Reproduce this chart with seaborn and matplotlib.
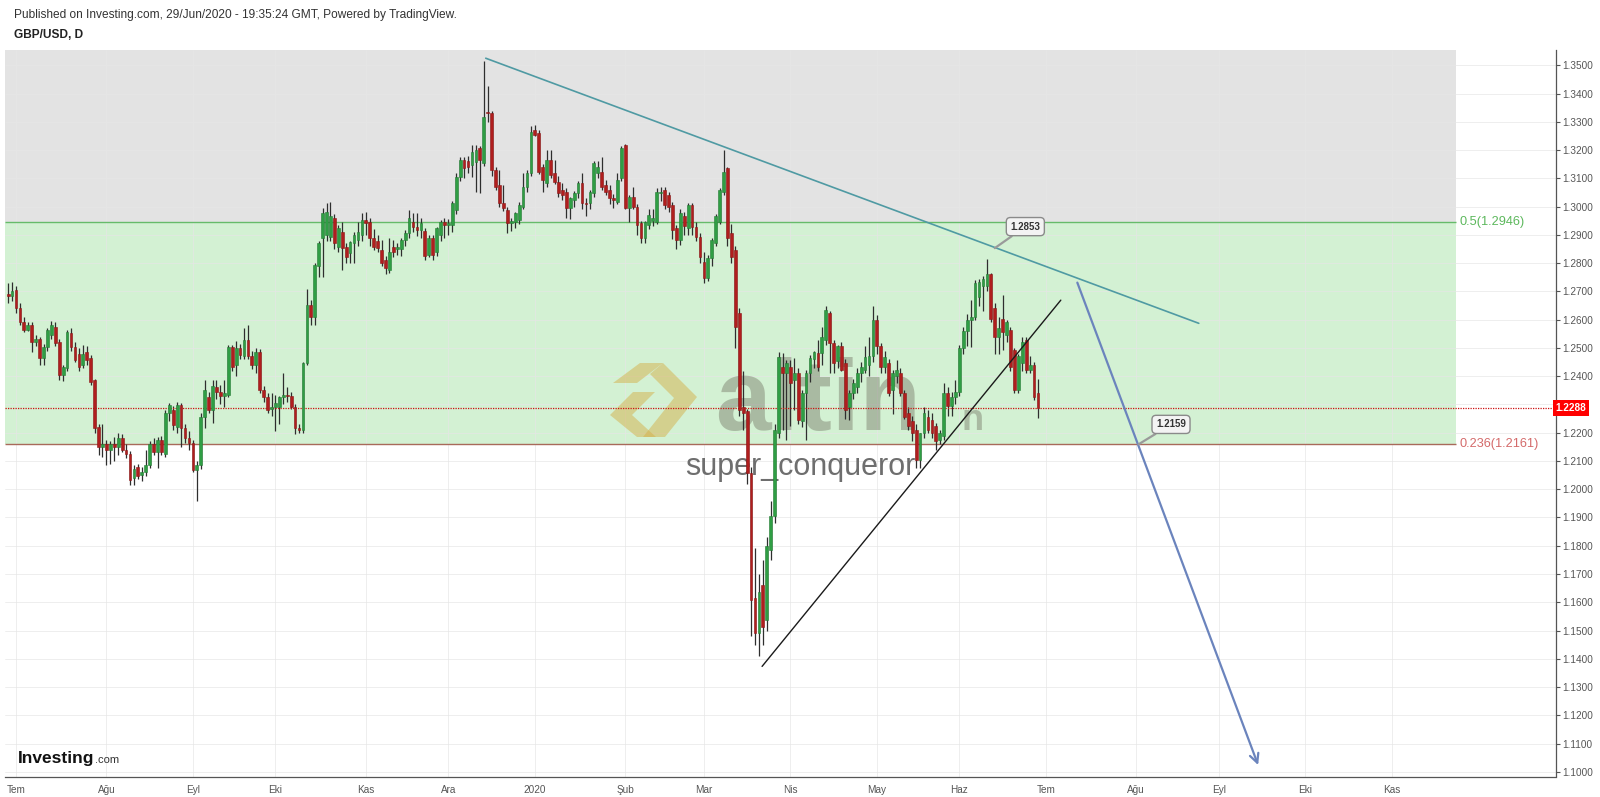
import numpy as np
import pandas as pd
import seaborn as sns
import matplotlib.pyplot as plt
from matplotlib.patches import Polygon
from matplotlib.transforms import blended_transform_factory

# GBP/USD daily bars, 27 Jun 2019 - 29 Jun 2020
dates = pd.bdate_range('2019-06-27', '2020-06-29')

opens = [
    1.2690, 1.2685,
    # Jul 2019
    1.2705, 1.2640, 1.2592, 1.2563, 1.2580, 1.2521, 1.2530, 1.2463, 1.2504, 1.2545, 1.2575, 1.2522,
    1.2404, 1.2430, 1.2551, 1.2504, 1.2480, 1.2439, 1.2486, 1.2463, 1.2386, 1.2221, 1.2150,
    # Aug
    1.2160, 1.2140, 1.2160, 1.2150, 1.2180, 1.2140, 1.2126, 1.2040, 1.2080, 1.2050, 1.2060,
    1.2085, 1.2160, 1.2130, 1.2175, 1.2126, 1.2268, 1.2280, 1.2221, 1.2297, 1.2215, 1.2180,
    # Sep
    1.2165, 1.2067, 1.2085, 1.2256, 1.2327, 1.2280, 1.2360, 1.2345, 1.2330, 1.2332, 1.2504,
    1.2439, 1.2500, 1.2470, 1.2527, 1.2470, 1.2440, 1.2486, 1.2350, 1.2327, 1.2285,
    # Oct
    1.2290, 1.2290, 1.2325, 1.2335, 1.2330, 1.2291, 1.2215, 1.2209, 1.2445, 1.2651, 1.2610, 1.2790,
    1.2888, 1.2900, 1.2894, 1.2959, 1.2858, 1.2911, 1.2858, 1.2835, 1.2870, 1.2882, 1.2900,
    # Nov
    1.2953, 1.2947, 1.2888, 1.2880, 1.2846, 1.2811, 1.2776, 1.2858, 1.2850, 1.2850, 1.2882,
    1.2905, 1.2947, 1.2929, 1.2917, 1.2914, 1.2830, 1.2888, 1.2841, 1.2900, 1.2947,
    # Dec
    1.2935, 1.2935, 1.2988, 1.3106, 1.3165, 1.3160, 1.3147, 1.3159, 1.3206, 1.3153, 1.3335,
    1.3330, 1.3130, 1.3077, 1.3012, 1.2988, 1.2941, 1.2947, 1.2953, 1.3000, 1.3071, 1.3118,
    # Jan 2020
    1.3271, 1.3259, 1.3141, 1.3082, 1.3165, 1.3118, 1.3088, 1.3059, 1.3053, 1.2994, 1.3024, 1.3047,
    1.3083, 1.3012, 1.3012, 1.3047, 1.3118, 1.3124, 1.3077, 1.3059, 1.3030, 1.3018, 1.3100,
    # Feb
    1.3218, 1.2994, 1.3035, 1.3000, 1.2941, 1.2888, 1.2935, 1.2950, 1.2947, 1.3047,
    1.3059, 1.3041, 1.3006, 1.2923, 1.2882, 1.2965, 1.2923, 1.3006, 1.2929, 1.2894,
    # Mar
    1.2805, 1.2746, 1.2817, 1.2870, 1.2947, 1.3053, 1.3136, 1.2906, 1.2847, 1.2622, 1.2290,
    1.2275, 1.2057, 1.1615, 1.1490, 1.1661, 1.1538, 1.1786, 1.1904, 1.2199, 1.2434, 1.2410,
    # Apr
    1.2434, 1.2387, 1.2410, 1.2240, 1.2340, 1.2410, 1.2460, 1.2481, 1.2481, 1.2528, 1.2622,
    1.2516, 1.2452, 1.2505, 1.2446, 1.2292, 1.2340, 1.2363, 1.2410, 1.2422, 1.2440, 1.2470,
    # May
    1.2599, 1.2505, 1.2434, 1.2446, 1.2352, 1.2400, 1.2410, 1.2340, 1.2270, 1.2240, 1.2210,
    1.2104, 1.2198, 1.2257, 1.2245, 1.2222, 1.2175, 1.2187, 1.2340, 1.2293, 1.2328,
    # Jun
    1.2345, 1.2498, 1.2560, 1.2600, 1.2610, 1.2680, 1.2720, 1.2720, 1.2760, 1.2640, 1.2539,
    1.2604, 1.2545, 1.2563, 1.2492, 1.2351, 1.2445, 1.2528, 1.2421, 1.2440, 1.2339,
]

highs = [
    1.2728, 1.2734,
    1.2718, 1.2660, 1.2610, 1.2590, 1.2590, 1.2545, 1.2540, 1.2515, 1.2570, 1.2595, 1.2590, 1.2530,
    1.2440, 1.2565, 1.2570, 1.2520, 1.2500, 1.2510, 1.2505, 1.2475, 1.2390, 1.2230, 1.2230,
    1.2175, 1.2170, 1.2185, 1.2200, 1.2195, 1.2160, 1.2135, 1.2085, 1.2090, 1.2080, 1.2140,
    1.2170, 1.2180, 1.2185, 1.2190, 1.2280, 1.2305, 1.2295, 1.2310, 1.2305, 1.2230, 1.2205,
    1.2175, 1.2100, 1.2270, 1.2385, 1.2345, 1.2385, 1.2385, 1.2370, 1.2385, 1.2510, 1.2510,
    1.2525, 1.2515, 1.2570, 1.2582, 1.2490, 1.2500, 1.2495, 1.2365, 1.2340, 1.2340,
    1.2335, 1.2330, 1.2410, 1.2360, 1.2345, 1.2300, 1.2230, 1.2450, 1.2708, 1.2670, 1.2800, 1.2880,
    1.2994, 1.3012, 1.3018, 1.2975, 1.2935, 1.2947, 1.2870, 1.2880, 1.2911, 1.2947, 1.2976,
    1.2982, 1.2960, 1.2920, 1.2900, 1.2882, 1.2825, 1.2888, 1.2882, 1.2870, 1.2888, 1.2917,
    1.2988, 1.2976, 1.2976, 1.2960, 1.2925, 1.2900, 1.2900, 1.2929, 1.2953, 1.2960,
    1.2955, 1.3020, 1.3118, 1.3175, 1.3175, 1.3180, 1.3217, 1.3217, 1.3215, 1.3514, 1.3425,
    1.3340, 1.3140, 1.3130, 1.3077, 1.3000, 1.2960, 1.2980, 1.3015, 1.3118, 1.3130, 1.3285,
    1.3290, 1.3270, 1.3150, 1.3200, 1.3200, 1.3165, 1.3110, 1.3085, 1.3065, 1.3035, 1.3055, 1.3089,
    1.3118, 1.3030, 1.3060, 1.3160, 1.3160, 1.3177, 1.3095, 1.3075, 1.3045, 1.3118, 1.3215,
    1.3222, 1.3040, 1.3070, 1.3010, 1.2950, 1.2950, 1.2990, 1.2990, 1.3065, 1.3070,
    1.3070, 1.3050, 1.3015, 1.2935, 1.2990, 1.2980, 1.3012, 1.3012, 1.2945, 1.2905,
    1.2840, 1.2830, 1.2890, 1.2975, 1.3065, 1.3200, 1.3140, 1.2940, 1.2860, 1.2640, 1.2420,
    1.2285, 1.2080, 1.1791, 1.1700, 1.1750, 1.1830, 1.1960, 1.2230, 1.2485, 1.2481, 1.2458,
    1.2458, 1.2464, 1.2430, 1.2350, 1.2422, 1.2475, 1.2490, 1.2528, 1.2575, 1.2647, 1.2630,
    1.2528, 1.2510, 1.2520, 1.2460, 1.2350, 1.2390, 1.2430, 1.2450, 1.2505, 1.2540, 1.2647,
    1.2615, 1.2516, 1.2490, 1.2460, 1.2422, 1.2458, 1.2430, 1.2350, 1.2290, 1.2260, 1.2230,
    1.2200, 1.2290, 1.2280, 1.2270, 1.2235, 1.2210, 1.2375, 1.2360, 1.2345, 1.2385,
    1.2510, 1.2575, 1.2620, 1.2669, 1.2740, 1.2745, 1.2755, 1.2813, 1.2765, 1.2660, 1.2610,
    1.2687, 1.2600, 1.2575, 1.2500, 1.2480, 1.2540, 1.2540, 1.2470, 1.2450, 1.2390,
]

lows = [
    1.2660, 1.2665,
    1.2625, 1.2580, 1.2555, 1.2560, 1.2486, 1.2505, 1.2440, 1.2440, 1.2490, 1.2530, 1.2505, 1.2385,
    1.2382, 1.2420, 1.2490, 1.2450, 1.2420, 1.2430, 1.2440, 1.2370, 1.2200, 1.2120, 1.2115,
    1.2085, 1.2090, 1.2100, 1.2120, 1.2130, 1.2110, 1.2015, 1.2015, 1.2035, 1.2030, 1.2045,
    1.2075, 1.2120, 1.2075, 1.2120, 1.2115, 1.2240, 1.2210, 1.2200, 1.2150, 1.2165, 1.2140,
    1.2060, 1.1958, 1.2070, 1.2215, 1.2270, 1.2235, 1.2320, 1.2300, 1.2290, 1.2325, 1.2420,
    1.2400, 1.2460, 1.2460, 1.2460, 1.2425, 1.2410, 1.2340, 1.2310, 1.2270, 1.2260,
    1.2205, 1.2230, 1.2300, 1.2310, 1.2285, 1.2195, 1.2200, 1.2200, 1.2440, 1.2580, 1.2580, 1.2750,
    1.2752, 1.2880, 1.2880, 1.2850, 1.2840, 1.2776, 1.2800, 1.2800, 1.2800, 1.2860, 1.2880,
    1.2900, 1.2860, 1.2845, 1.2840, 1.2790, 1.2760, 1.2765, 1.2820, 1.2830, 1.2825, 1.2860,
    1.2890, 1.2910, 1.2895, 1.2890, 1.2810, 1.2820, 1.2810, 1.2825, 1.2880, 1.2890,
    1.2900, 1.2910, 1.2975, 1.3090, 1.3100, 1.3120, 1.3106, 1.3053, 1.3047, 1.3145, 1.3300,
    1.3110, 1.3060, 1.3000, 1.2985, 1.2905, 1.2915, 1.2925, 1.2940, 1.2990, 1.3050, 1.3110,
    1.3250, 1.3115, 1.3050, 1.3070, 1.3100, 1.3080, 1.3035, 1.3025, 1.2960, 1.2955, 1.3000, 1.3030,
    1.2990, 1.2965, 1.2990, 1.3035, 1.3100, 1.3060, 1.3040, 1.3010, 1.2994, 1.3010, 1.3090,
    1.2990, 1.2947, 1.2990, 1.2900, 1.2870, 1.2870, 1.2920, 1.2930, 1.2940, 1.3020,
    1.2990, 1.2980, 1.2885, 1.2850, 1.2865, 1.2900, 1.2900, 1.2900, 1.2880, 1.2800,
    1.2728, 1.2735, 1.2790, 1.2860, 1.2940, 1.3040, 1.2860, 1.2800, 1.2500, 1.2260, 1.2210,
    1.2020, 1.1480, 1.1450, 1.1409, 1.1450, 1.1500, 1.1750, 1.1880, 1.2180, 1.2210, 1.2175,
    1.2222, 1.2281, 1.2230, 1.2220, 1.2175, 1.2380, 1.2430, 1.2420, 1.2440, 1.2510, 1.2410,
    1.2410, 1.2430, 1.2420, 1.2247, 1.2245, 1.2320, 1.2340, 1.2380, 1.2410, 1.2400, 1.2450,
    1.2480, 1.2410, 1.2410, 1.2330, 1.2265, 1.2375, 1.2330, 1.2250, 1.2210, 1.2170, 1.2075,
    1.2075, 1.2180, 1.2200, 1.2180, 1.2140, 1.2160, 1.2175, 1.2260, 1.2260, 1.2300,
    1.2330, 1.2480, 1.2505, 1.2504, 1.2600, 1.2650, 1.2630, 1.2700, 1.2590, 1.2480, 1.2480,
    1.2492, 1.2520, 1.2420, 1.2340, 1.2339, 1.2420, 1.2410, 1.2410, 1.2315, 1.2252,
]

closes = [
    1.2685, 1.2700,
    1.2640, 1.2592, 1.2563, 1.2580, 1.2521, 1.2530, 1.2463, 1.2504, 1.2563, 1.2581, 1.2516, 1.2404,
    1.2433, 1.2557, 1.2504, 1.2457, 1.2433, 1.2480, 1.2457, 1.2380, 1.2215, 1.2150, 1.2160,
    1.2140, 1.2160, 1.2150, 1.2180, 1.2140, 1.2126, 1.2032, 1.2073, 1.2045, 1.2060, 1.2085,
    1.2161, 1.2130, 1.2175, 1.2130, 1.2268, 1.2297, 1.2227, 1.2297, 1.2215, 1.2180, 1.2162,
    1.2067, 1.2085, 1.2256, 1.2350, 1.2280, 1.2365, 1.2345, 1.2330, 1.2340, 1.2504, 1.2433,
    1.2500, 1.2475, 1.2527, 1.2470, 1.2440, 1.2486, 1.2350, 1.2327, 1.2280, 1.2290,
    1.2305, 1.2325, 1.2335, 1.2330, 1.2291, 1.2215, 1.2209, 1.2445, 1.2651, 1.2610, 1.2793, 1.2870,
    1.2976, 1.2980, 1.2965, 1.2870, 1.2923, 1.2852, 1.2823, 1.2876, 1.2900, 1.2911, 1.2953,
    1.2941, 1.2888, 1.2858, 1.2853, 1.2800, 1.2782, 1.2841, 1.2841, 1.2858, 1.2882, 1.2905,
    1.2959, 1.2929, 1.2917, 1.2941, 1.2825, 1.2888, 1.2829, 1.2923, 1.2947, 1.2935,
    1.2941, 1.3012, 1.3106, 1.3165, 1.3136, 1.3140, 1.3194, 1.3200, 1.3165, 1.3318, 1.3330,
    1.3130, 1.3071, 1.3012, 1.2994, 1.2941, 1.2950, 1.2976, 1.3006, 1.3071, 1.3118, 1.3265,
    1.3254, 1.3124, 1.3094, 1.3165, 1.3112, 1.3088, 1.3047, 1.3041, 1.2994, 1.3030, 1.3047, 1.3083,
    1.3012, 1.3010, 1.3053, 1.3153, 1.3141, 1.3071, 1.3053, 1.3030, 1.3024, 1.3094, 1.3206,
    1.2994, 1.3035, 1.3000, 1.2935, 1.2888, 1.2947, 1.2970, 1.2960, 1.3053, 1.3053,
    1.3006, 1.3000, 1.2917, 1.2882, 1.2976, 1.2930, 1.3006, 1.2929, 1.2894, 1.2823,
    1.2746, 1.2817, 1.2882, 1.2965, 1.3059, 1.3124, 1.2888, 1.2823, 1.2575, 1.2281, 1.2270,
    1.2057, 1.1609, 1.1490, 1.1638, 1.1514, 1.1798, 1.1904, 1.2210, 1.2469, 1.2410, 1.2446,
    1.2375, 1.2410, 1.2246, 1.2340, 1.2410, 1.2464, 1.2487, 1.2434, 1.2540, 1.2634, 1.2516,
    1.2446, 1.2505, 1.2422, 1.2281, 1.2340, 1.2375, 1.2410, 1.2434, 1.2469, 1.2470, 1.2599,
    1.2505, 1.2434, 1.2469, 1.2340, 1.2410, 1.2422, 1.2340, 1.2257, 1.2222, 1.2198, 1.2104,
    1.2198, 1.2269, 1.2210, 1.2198, 1.2169, 1.2198, 1.2340, 1.2293, 1.2328, 1.2345,
    1.2498, 1.2560, 1.2600, 1.2610, 1.2728, 1.2734, 1.2745, 1.2760, 1.2604, 1.2539, 1.2569,
    1.2557, 1.2590, 1.2433, 1.2351, 1.2470, 1.2522, 1.2421, 1.2440, 1.2325, 1.2288,
]

# Fibonacci zone and last price
fib_levels = [1.2161, 1.2946]
fib_names = ['0.236(1.2161)', '0.5(1.2946)']
fib_end = 366.3
last_price = 1.2288

# hand-drawn lines (bar index, price)
res_x, res_y = [119.5, 300.9], [1.3525, 1.2587]
sup_x, sup_y = [189.8, 265.8], [1.1373, 1.2669]
arrow_x, arrow_y = [270.0, 316.0], [1.2731, 1.1024]
callout_x = [249.0, 285.6]
callout_y = [1.2853, 1.2159]
callout_text = ['1.2853', '1.2159']
callout_off = [(22, 15.5), (23.3, 14.3)]

month_tr = {1: '2020', 2: 'Şub', 3: 'Mar', 4: 'Nis', 5: 'May', 6: 'Haz',
            7: 'Tem', 8: 'Ağu', 9: 'Eyl', 10: 'Eki', 11: 'Kas', 12: 'Ara'}

sns.set_style('white')
plt.rcParams['font.family'] = ['Liberation Sans', 'DejaVu Sans']

o, h, l, c = map(np.array, (opens, highs, lows, closes))
assert len(o) == len(h) == len(l) == len(c) == len(dates)
x = np.arange(len(dates)) - 2
up = c >= o

W, H = 1600, 797
fig = plt.figure(figsize=(W / 100, H / 100), dpi=100)
ax = fig.add_axes([5 / W, 1 - 776.5 / H, 1550.7 / W, 726.5 / H])
xmin, xmax = -2.8, 391.7
ymin, ymax = 1.09834, 1.35541
ax.set_xlim(xmin, xmax)
ax.set_ylim(ymin, ymax)

# zones
ax.fill_between([xmin, fib_end], fib_levels[1], ymax, color='#e3e3e3', lw=0, zorder=0)
ax.fill_between([xmin, fib_end], fib_levels[0], fib_levels[1], color='#d3f1d3', lw=0, zorder=0)
ax.hlines(fib_levels[1], xmin, fib_end, color='#66bb6a', lw=1.0, zorder=1)
ax.hlines(fib_levels[0], xmin, fib_end, color='#a86a5a', lw=1.0, zorder=1)
ax.text(fib_end + 1, fib_levels[1], fib_names[1], color='#5cb85c', fontsize=9.2, va='center', ha='left')
ax.text(fib_end + 1, fib_levels[0], fib_names[0], color='#d46a6a', fontsize=9.2, va='center', ha='left')

# month ticks
ext = pd.bdate_range('2019-06-27', '2020-11-30')
ext_x = np.arange(len(ext)) - 2
m = ext.month.values
starts = [i for i in range(1, len(ext)) if m[i] != m[i - 1]]
ax.set_xticks(ext_x[starts])
ax.set_xticklabels([month_tr[ext[i].month] for i in starts])

yt = np.round(np.arange(1.10, 1.3501, 0.01), 2)
ax.yaxis.tick_right()
ax.set_yticks(yt)
ax.set_yticklabels(['' if abs(v - 1.23) < 1e-6 else f'{v:.4f}' for v in yt])
ax.tick_params(axis='both', labelsize=7.2, colors='#555555', length=3, width=0.8, pad=2)
ax.tick_params(axis='x', pad=3)
ax.grid(True, color='#e6e6e6', lw=0.6, alpha=0.8)
ax.set_axisbelow(True)
for s in ['left', 'top']:
    ax.spines[s].set_visible(False)
for s in ['right', 'bottom']:
    ax.spines[s].set_color('#555555')
    ax.spines[s].set_linewidth(0.9)

# watermark (drawn under the candles)
def px(xp, yp):
    return (xp / W, 1 - yp / H)

logo_parts = [
    [(613, 383), (640, 363), (663, 363), (637, 383)],
    [(663, 363), (697, 397), (665, 437), (643, 437), (674, 398), (650, 374)],
    [(633, 392), (655, 392), (632, 415), (656, 437), (637, 437), (610, 415)],
]
for pts in logo_parts:
    ax.add_patch(Polygon([px(*p) for p in pts], closed=True, transform=fig.transFigure,
                         fc='#d4b04a', ec='none', alpha=0.5, zorder=2, clip_on=False))
ax.text(*px(715, 430), 'altin', transform=fig.transFigure, fontsize=72, fontweight='bold',
        color='#707060', alpha=0.42, ha='left', va='baseline', zorder=2)
ax.text(*px(962, 430), 'n', transform=fig.transFigure, fontsize=26, fontweight='bold',
        color='#707060', alpha=0.42, ha='left', va='baseline', zorder=2)
ax.text(*px(800, 475), 'super_conqueror', transform=fig.transFigure, fontsize=22, color='#6e6e6e',
        ha='center', va='baseline', zorder=2.5)

# candles
ax.vlines(x, l, h, color='#2e2e2e', lw=0.9, zorder=3)
body_lo = np.minimum(o, c)
body_h = np.maximum(np.abs(c - o), 0.0003)
ax.bar(x, body_h, bottom=body_lo, width=0.7, color=np.where(up, '#2f9e44', '#b01e1e'),
       edgecolor=np.where(up, '#237a33', '#8a1515'), lw=0.4, zorder=3.5)

# last price
ax.axhline(last_price, color='#cc1111', lw=0.9, ls=(0, (1, 1)), zorder=3)
ax.text(1.0, last_price, '1.2288', transform=blended_transform_factory(ax.transAxes, ax.transData),
        ha='left', va='center', color='white', fontsize=7.2, fontweight='bold',
        bbox=dict(boxstyle='square,pad=0.3', fc='#ff0000', ec='none'), zorder=6, clip_on=False)

# trend lines
sns.lineplot(x=res_x, y=res_y, ax=ax, color='#4f9aa3', lw=1.2, zorder=4)
sns.lineplot(x=sup_x, y=sup_y, ax=ax, color='#1a1a1a', lw=1.0, zorder=4)
ax.annotate('', xy=(arrow_x[1], arrow_y[1]), xytext=(arrow_x[0], arrow_y[0]),
            arrowprops=dict(arrowstyle='->', color='#6b84bd', lw=1.6, mutation_scale=16,
                            shrinkA=0, shrinkB=0), zorder=4)
for cx, cy, txt, off in zip(callout_x, callout_y, callout_text, callout_off):
    ax.annotate(txt, xy=(cx, cy), xytext=off, textcoords='offset points', ha='center', va='center',
                fontsize=7, fontweight='bold', color='#333333',
                bbox=dict(boxstyle='round,pad=0.42', fc='#f3f3f3', ec='#8a8a8a', lw=1.0),
                arrowprops=dict(arrowstyle='-', color='#9a9a9a', lw=1.6, shrinkA=0, shrinkB=0),
                zorder=5)

# header / footer
fig.text(14 / W, 1 - 15 / H, 'Published on Investing.com, 29/Jun/2020 - 19:35:24 GMT, Powered by TradingView.',
         fontsize=8.6, color='#333333', va='center', ha='left')
fig.text(14 / W, 1 - 35.5 / H, 'GBP/USD, D', fontsize=8.6, fontweight='bold', color='#222222',
         va='center', ha='left')
fig.text(18 / W, 1 - 763 / H, 'Investing', fontsize=12.5, fontweight='bold', color='#111111',
         va='baseline', ha='left')
fig.text(95 / W, 1 - 763 / H, '.com', fontsize=8, color='#333333', va='baseline', ha='left')

fig.savefig('out.png', dpi=100)
